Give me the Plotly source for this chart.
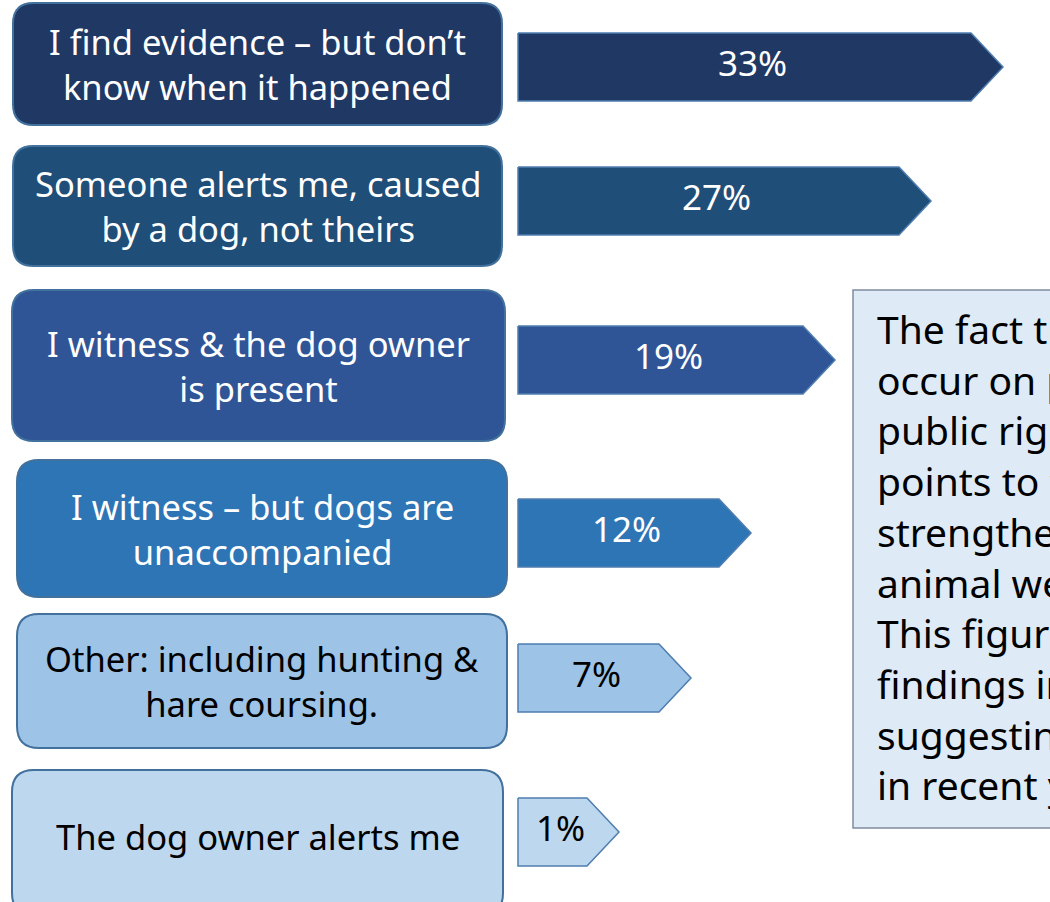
import plotly.graph_objects as go

# ---------------- data ----------------
label_lines = [
    ["I find evidence – but don’t", "know when it happened"],
    ["Someone alerts me, caused", "by a dog, not theirs"],
    ["I witness & the dog owner", "is present"],
    ["I witness – but dogs are", "unaccompanied"],
    ["Other: including hunting &", "hare coursing."],
    ["The dog owner alerts me"],
]
values = [33, 27, 19, 12, 7, 1]
note_lines = ["The fact th", "occur on p", "public righ", "points to t", "strengthen",
              "animal we", "This figure", "findings in", "suggesting", "in recent y"]

# ---------------- layout / style ----------------
W, H = 1050, 902
FONT = "Noto Sans"
PX_PER_PCT = 12.0          # horizontal scale: pixels per percentage point
ZERO_PX = 575.0            # pixel position of 0 % on the value scale
BASE_PX = 518.0            # where every arrow starts
TIP_PX = 32.0              # arrow head length
ARROW_H = 68.0
ROW_Y = [67, 201, 360, 533, 678, 832]
BOXES = [(13, 3, 502, 125), (13, 146, 502, 266), (12, 290, 505, 441),
         (17, 460, 507, 597), (17, 614, 507, 748), (12, 770, 503, 915)]
FILLS = ["#1F3864", "#1F4E79", "#2F5597", "#2E75B6", "#9DC3E6", "#BDD7EE"]
TEXT_COL = ["white", "white", "white", "white", "black", "black"]
EDGE = "#41719C"
ARROW_EDGE = "#4F7DB0"

x_range = [(0 - ZERO_PX) / PX_PER_PCT, (W - ZERO_PX) / PX_PER_PCT]
base_v = (BASE_PX - ZERO_PX) / PX_PER_PCT
tip_v = TIP_PX / PX_PER_PCT

fig = go.Figure()

# arrows (value bars with a chevron head), drawn on the value axis
for i, v in enumerate(values):
    yc = ROW_Y[i]
    h = ARROW_H / 2
    fig.add_trace(go.Scatter(
        x=[base_v, v, v + tip_v, v, base_v, base_v],
        y=[yc - h, yc - h, yc, yc + h, yc + h, yc - h],
        mode="lines", fill="toself", fillcolor=FILLS[i],
        line=dict(color=ARROW_EDGE, width=1.5), hoverinfo="skip", showlegend=False))
    fig.add_trace(go.Scatter(
        x=[(base_v + v + tip_v / 2) / 2], y=[yc], mode="text",
        text=[f"{v}%"], textposition="middle center",
        textfont=dict(family=FONT, size=35, color=TEXT_COL[i]),
        hoverinfo="skip", showlegend=False))


def rrect(x0, y0, x1, y1, r):
    X = lambda p: p / W
    return (f"M {X(x0 + r)},{y0} L {X(x1 - r)},{y0} Q {X(x1)},{y0} {X(x1)},{y0 + r} "
            f"L {X(x1)},{y1 - r} Q {X(x1)},{y1} {X(x1 - r)},{y1} "
            f"L {X(x0 + r)},{y1} Q {X(x0)},{y1} {X(x0)},{y1 - r} "
            f"L {X(x0)},{y0 + r} Q {X(x0)},{y0} {X(x0 + r)},{y0} Z")


shapes = []
annotations = []
for i, (x0, y0, x1, y1) in enumerate(BOXES):
    r = min(22, 0.17 * (y1 - y0))
    shapes.append(dict(type="path", xref="paper", yref="y", path=rrect(x0, y0, x1, y1, r),
                       fillcolor=FILLS[i], line=dict(color=EDGE, width=2), layer="below"))
    cy = (y0 + y1) / 2 if i < 5 else 836
    annotations.append(dict(xref="paper", yref="y", x=(x0 + x1) / 2 / W, y=cy,
                            text="<br>".join(label_lines[i]), showarrow=False,
                            xanchor="center", yanchor="middle", align="center",
                            font=dict(family=FONT, size=34.5, color=TEXT_COL[i])))

# note box on the right (its text runs past the right edge, as in the source)
shapes.append(dict(type="rect", xref="paper", yref="y", x0=853 / W, x1=1.05, y0=290, y1=828,
                   fillcolor="#DEEBF7", line=dict(color="#7F8CA0", width=1.5), layer="below"))
annotations.append(dict(xref="paper", yref="y", x=875 / W, y=556, xanchor="left",
                        yanchor="middle", align="left", showarrow=False,
                        text="<br>".join(note_lines),
                        font=dict(family=FONT, size=39, color="black")))

fig.update_layout(
    width=W, height=H, margin=dict(l=0, r=0, t=0, b=0),
    paper_bgcolor="white", plot_bgcolor="white",
    xaxis=dict(range=x_range, visible=False, fixedrange=True),
    yaxis=dict(range=[H, 0], visible=False, fixedrange=True),
    shapes=shapes, annotations=annotations, showlegend=False,
)

fig.write_html("out.html", config={"displayModeBar": False},
               post_script="document.body.style.margin='0';document.body.style.overflow='hidden';")
